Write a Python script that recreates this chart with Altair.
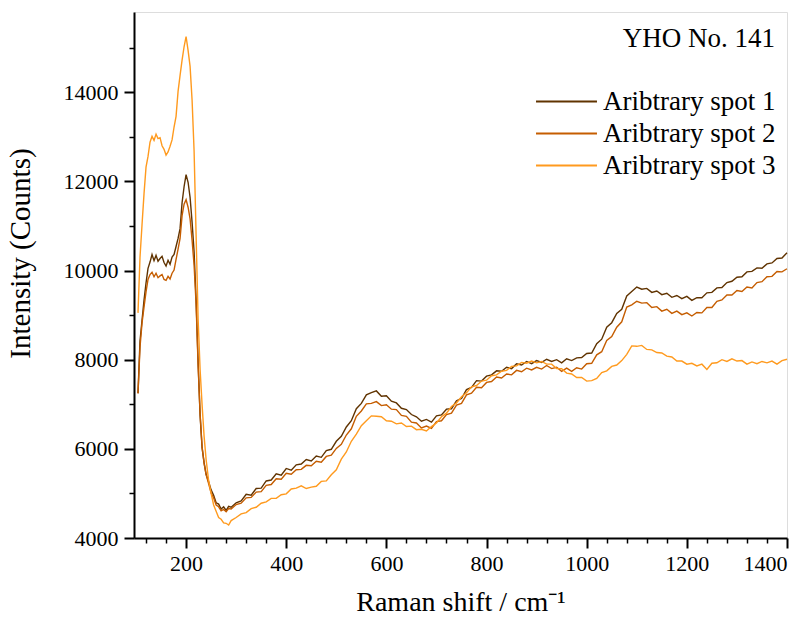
import altair as alt
import pandas as pd

SERIES = ["Aribtrary spot 1", "Aribtrary spot 2", "Aribtrary spot 3"]
COLORS = ["#603300", "#C55D00", "#FF9A1E"]

raman_shift = [
    104, 108, 112, 116, 120, 124, 128, 132, 136, 140, 144, 148, 152, 156, 160, 164, 168, 172,
    176, 180, 184, 188, 192, 196, 200, 204, 208, 212, 216, 220, 224, 228, 232, 236, 240,
    245, 250, 255, 260, 265, 270, 275, 280, 285, 290,
    300, 310, 320, 330, 340, 350, 360, 370, 380, 390, 400, 410, 420, 430, 440, 450, 460, 470,
    480, 490, 500, 510, 520, 530, 540, 550, 560, 570, 580, 590, 600, 610, 620, 630, 640, 650,
    660, 670, 680, 690, 700, 710, 720, 730, 740, 750, 760, 770, 780, 790, 800, 810, 820, 830,
    840, 850, 860, 870, 880, 890, 900, 910, 920, 930, 940, 950, 960, 970, 980, 990, 1000,
    1010, 1020, 1030, 1040, 1050, 1060, 1070, 1080, 1090, 1100, 1110, 1120, 1130, 1140, 1150,
    1160, 1170, 1180, 1190, 1200, 1210, 1220, 1230, 1240, 1250, 1260, 1270, 1280, 1290, 1300,
    1310, 1320, 1330, 1340, 1350, 1360, 1370, 1380, 1390, 1400,
]

spot1 = [
    7250, 8420, 8880, 9330, 9720, 10050, 10190, 10360, 10220, 10340, 10210, 10270, 10320, 10180,
    10100, 10230, 10140, 10300, 10360, 10540, 10720, 10940, 11520, 11880, 12150, 11980, 11640,
    11080, 10420, 9350, 7950, 6750, 6020, 5690, 5430,
    5260, 5080, 4960, 4790, 4760, 4650, 4700, 4620, 4710, 4690,
    4790, 4830, 4980, 4960, 5110, 5120, 5280, 5300, 5440, 5410, 5560, 5520, 5640, 5660, 5760,
    5730, 5840, 5810, 5960, 5990, 6170, 6280, 6490, 6630, 6900, 7020, 7210, 7260, 7300, 7180,
    7190, 7070, 7030, 6910, 6880, 6770, 6720, 6620, 6660, 6600, 6740, 6760, 6890, 6900, 7080,
    7130, 7330, 7380, 7530, 7520, 7630, 7660, 7750, 7740, 7830, 7800, 7910, 7880, 7960, 7910,
    7980, 7940, 8010, 7960, 8000, 7930, 8020, 7980, 8040, 8050, 8140, 8150, 8360, 8460, 8730,
    8830, 9040, 9130, 9430, 9530, 9630, 9580, 9600, 9510, 9540, 9460, 9490, 9400, 9440, 9370,
    9420, 9330, 9390, 9390, 9500, 9510, 9610, 9620, 9730, 9760, 9850, 9860, 9970, 9980, 10060,
    10050, 10150, 10170, 10270, 10280, 10400,
]

spot2 = [
    7240, 8280, 8820, 9180, 9520, 9800, 9910, 9960, 9860, 9940, 9840, 9880, 9910, 9800,
    9780, 9870, 9810, 9940, 10010, 10250, 10480, 10720, 11230, 11490, 11590, 11420, 11160,
    10680, 10120, 9250, 7880, 6780, 6040, 5670, 5420,
    5220, 5010, 4900, 4740, 4700, 4610, 4640, 4590, 4660, 4650,
    4750, 4780, 4900, 4910, 5030, 5040, 5180, 5200, 5330, 5320, 5450, 5430, 5530, 5540, 5630,
    5620, 5720, 5700, 5830, 5860, 6010, 6100, 6310, 6450, 6730, 6850, 7010, 7020, 7060, 6970,
    6990, 6890, 6880, 6750, 6730, 6600, 6580, 6470, 6510, 6460, 6610, 6630, 6770, 6800, 6980,
    7020, 7210, 7250, 7380, 7370, 7490, 7510, 7610, 7590, 7680, 7660, 7760, 7730, 7810, 7770,
    7830, 7790, 7870, 7800, 7830, 7740, 7810, 7740, 7820, 7790, 7910, 7920, 8110, 8180, 8430,
    8520, 8730, 8850, 9180, 9230, 9310, 9270, 9280, 9170, 9190, 9090, 9130, 9040, 9090, 9010,
    9050, 8980, 9060, 9050, 9170, 9170, 9310, 9340, 9450, 9450, 9550, 9530, 9630, 9610, 9730,
    9750, 9860, 9870, 9980, 9970, 10040,
]

spot3 = [
    9050, 10300, 11020, 11720, 12320, 12560, 12880, 13010, 12920, 13060, 12960, 12980, 12800,
    12720, 12590, 12660, 12790, 12930, 13220, 13460, 14020, 14380, 14720, 15020, 15250, 14940,
    14580, 13820, 12680, 10800, 8920, 7780, 6980, 6280, 5760,
    5290, 5000, 4740, 4600, 4460, 4420, 4340, 4330, 4290, 4390,
    4460, 4540, 4570, 4660, 4690, 4780, 4810, 4890, 4890, 4970, 4990, 5100, 5120, 5170, 5110,
    5140, 5160, 5270, 5280, 5420, 5530, 5770, 5930, 6170, 6330, 6520, 6630, 6740, 6730, 6720,
    6630, 6620, 6560, 6580, 6500, 6510, 6430, 6440, 6400, 6500, 6580, 6720, 6800, 6950, 7030,
    7170, 7260, 7390, 7420, 7520, 7540, 7640, 7660, 7740, 7760, 7850, 7860, 7940, 7920, 7970,
    7930, 7960, 7900, 7900, 7800, 7800, 7700, 7680, 7600, 7600, 7520, 7530, 7580, 7710, 7750,
    7850, 7880, 7980, 8120, 8310, 8300, 8320, 8230, 8220, 8160, 8150, 8080, 8060, 7970, 7970,
    7900, 7920, 7860, 7900, 7780, 7920, 7930, 8000, 7960, 8020, 7970, 7980, 7900, 7950, 7910,
    7960, 7930, 7970, 7900, 7980, 8010,
]

X_MAJOR = [200, 400, 600, 800, 1000, 1200, 1400]
X_MINOR = [120, 160, 240, 280, 320, 360, 440, 480, 520, 560, 640, 680, 720, 760, 840, 880,
           920, 960, 1040, 1080, 1120, 1160, 1240, 1280, 1320, 1360]
Y_MAJOR = [4000, 6000, 8000, 10000, 12000, 14000]
Y_MINOR = [5000, 7000, 9000, 11000, 13000, 15000]

rows = []
for name, vals in zip(SERIES, [spot1, spot2, spot3]):
    for xv, yv in zip(raman_shift, vals):
        rows.append({"shift": xv, "counts": yv, "series": name})
df = pd.DataFrame(rows)

FONT = "Liberation Serif"
xscale = alt.Scale(domain=[96, 1400], nice=False, zero=False)
yscale = alt.Scale(domain=[4000, 15800], nice=False, zero=False)

lines = alt.Chart(df).mark_line(strokeWidth=1.4).encode(
    x=alt.X("shift:Q", scale=xscale, axis=alt.Axis(
        orient="bottom", values=X_MAJOR, format="d", title="Raman shift / cm⁻¹", grid=False,
        tickSize=10, tickWidth=2, tickColor="black", domainColor="black", domainWidth=2,
        labelFont=FONT, labelFontSize=22, labelColor="black", labelPadding=5,
        titleFont=FONT, titleFontSize=28, titleFontWeight="normal", titleColor="black",
        titlePadding=14)),
    y=alt.Y("counts:Q", scale=yscale, axis=alt.Axis(
        orient="left", values=Y_MAJOR, format="d", title="Intensity (Counts)", grid=False,
        tickSize=10, tickWidth=2, tickColor="black", domainColor="black", domainWidth=2,
        labelFont=FONT, labelFontSize=22, labelColor="black", labelPadding=6,
        titleFont=FONT, titleFontSize=29, titleFontWeight="normal", titleColor="black",
        titlePadding=28, titleY=241)),
    color=alt.Color("series:N", scale=alt.Scale(domain=SERIES, range=COLORS), legend=alt.Legend(
        title="YHO No. 141", orient="none", legendX=419, legendY=14,
        titleFont=FONT, titleFontSize=27, titleFontWeight="normal", titleColor="black",
        titleAnchor="end", titlePadding=35, titleLimit=400,
        labelFont=FONT, labelFontSize=27, labelColor="black", labelOffset=23,
        labelLimit=400,
        symbolType="M-3,0H3", symbolSize=413, symbolStrokeWidth=2, rowPadding=4)),
    order=alt.Order("shift:Q"),
)

minor = alt.Chart(df).mark_line(opacity=0).encode(
    x=alt.X("shift:Q", scale=xscale, axis=alt.Axis(
        orient="bottom", values=X_MINOR, title="", labels=False, domain=False, grid=False,
        tickSize=5, tickWidth=1.5, tickColor="black")),
    y=alt.Y("counts:Q", scale=yscale, axis=alt.Axis(
        orient="left", values=Y_MINOR, title="", labels=False, domain=False, grid=False,
        tickSize=5, tickWidth=1.5, tickColor="black")),
)

chart = alt.layer(lines, minor).resolve_axis(x="independent", y="independent").properties(
    width=653, height=526,
    autosize=alt.AutoSizeParams(type="none"),
    padding={"left": 134, "top": 12, "right": 23, "bottom": 82},
).configure_view(stroke="black", strokeWidth=2).configure(
    background="white", font=FONT
).configure_axis(labelFont=FONT, titleFont=FONT).configure_legend(labelFont=FONT, titleFont=FONT)

chart.save("out.html", embed_options={"renderer": "svg", "actions": False})
